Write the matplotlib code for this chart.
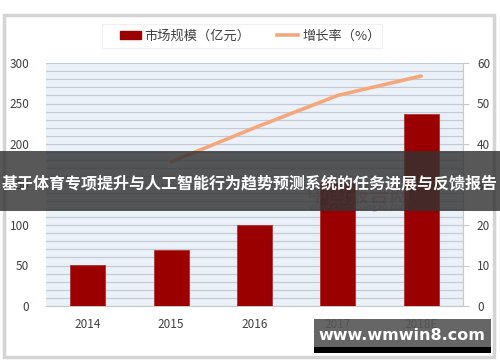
import matplotlib.pyplot as plt
import matplotlib.patches as mpatches
from matplotlib.lines import Line2D

plt.rcParams['font.family'] = ['Noto Sans CJK SC', 'DejaVu Sans']

years = ["2014", "2015", "2016", "2017", "2018E"]
market_size = [50.5, 69.5, 100, 152, 237]
growth_years = [1, 2, 3, 4]
growth_rate = [35.6, 44.0, 52.0, 56.8]
left_ticks = [0, 50, 100, 150, 200, 250, 300]
right_ticks = [0, 10, 20, 30, 40, 50, 60]

title_text = "基于体育专项提升与人工智能行为趋势预测系统的任务进展与反馈报告"
watermark = "www.wmwin8.com"

W, H = 500, 362
fig = plt.figure(figsize=(W / 100, H / 100), dpi=100)
fig.patch.set_facecolor("white")

def px(x, y, w, h):
    # pixel box (top-left origin) -> figure fraction
    return [x / W, 1 - (y + h) / H, w / W, h / H]

# card with grey border
card = mpatches.Rectangle((4 / W, 1 - 357 / H), 490 / W, 342 / H, transform=fig.transFigure,
                          facecolor="white", edgecolor="#d4d4d4", linewidth=2.5, zorder=-5)
fig.patches.append(card)

ax = fig.add_axes(px(46, 63, 417, 243))
ax.set_facecolor("#eaf1f8")
x = list(range(len(years)))
ax.bar(x, market_size, width=0.42, color="#9a0000", edgecolor="#b83030", linewidth=0.6, zorder=3)
ax.set_xlim(-0.5, 4.5)
ax.set_ylim(0, 300)
ax.set_yticks(left_ticks)
ax.set_yticks(range(0, 301, 10), minor=True)
ax.yaxis.grid(True, which="both", color="#c3cad4", linewidth=0.9, zorder=0)
ax.set_axisbelow(True)
ax.set_xticks(x)
ax.set_xticklabels(years)
for s in ["top", "left", "right"]:
    ax.spines[s].set_visible(False)
ax.spines["bottom"].set_color("#c8c8c8")
ax.tick_params(axis="both", which="both", length=0, colors="#404040", labelsize=8.5)
ax.tick_params(axis="x", pad=9)
ax.tick_params(axis="y", pad=12)

ax2 = ax.twinx()
ax2.plot(growth_years, growth_rate, color="#f5a77c", linewidth=2.6, solid_capstyle="round", zorder=4)
ax2.set_ylim(0, 60)
ax2.set_yticks(right_ticks)
for s in ["top", "left", "bottom"]:
    ax2.spines[s].set_visible(False)
ax2.spines["right"].set_color("#c8c8c8")
ax2.tick_params(axis="y", length=4, color="#c8c8c8", labelcolor="#404040", labelsize=8.5, pad=6)

# faint source watermark in plot (mostly under the banner)
ax.text(3.25, 136, "中国报告网", color="#c86060", alpha=0.35, fontsize=15, fontweight="bold",
        ha="center", va="center", zorder=5)
ax.text(3.25, 122, "www.chinabaogao.com", color="#888888", alpha=0.5, fontsize=6.5,
        ha="center", va="center", zorder=5)

# legend
leg_box = mpatches.Rectangle((102 / W, 1 - 48 / H), 280 / W, 24 / H, transform=fig.transFigure,
                             facecolor="white", edgecolor="#f0f0f0", linewidth=0.8, zorder=5)
fig.patches.append(leg_box)
handles = [mpatches.Patch(color="#9a0000"), Line2D([0], [0], color="#f5a77c", linewidth=2.6)]
fig.legend(handles, ["市场规模（亿元）", "增长率（%）"], loc="center", bbox_to_anchor=(250 / W, 1 - 36 / H),
           ncol=2, frameon=False, fontsize=9.5, handlelength=1.6, handleheight=0.5,
           columnspacing=2.0, handletextpad=0.3, labelcolor="#404040")

# title banner
banner = mpatches.Rectangle((0, 1 - 211 / H), 1, 60 / H, transform=fig.transFigure,
                            facecolor="#333333", alpha=0.82, zorder=10)
fig.patches.append(banner)
fig.text(0.5, 1 - 183 / H, title_text, color="white", fontsize=11.5, fontweight="bold",
         ha="center", va="center", zorder=11)

# bottom right watermark
wm = mpatches.Rectangle((314 / W, 1 - 347 / H), 177 / W, 28 / H, transform=fig.transFigure,
                        facecolor="#555555", alpha=0.9, zorder=10)
fig.patches.append(wm)
wm_bar = mpatches.Rectangle((314 / W, 1 - 353 / H), 177 / W, 6 / H, transform=fig.transFigure,
                            facecolor="black", zorder=10)
fig.patches.append(wm_bar)
fig.text(402 / W, 1 - 335 / H, watermark, color="white", fontsize=11.5, fontweight="bold",
         family=["DejaVu Sans"], ha="center", va="center", zorder=11)

fig.savefig("out.png", dpi=100)
